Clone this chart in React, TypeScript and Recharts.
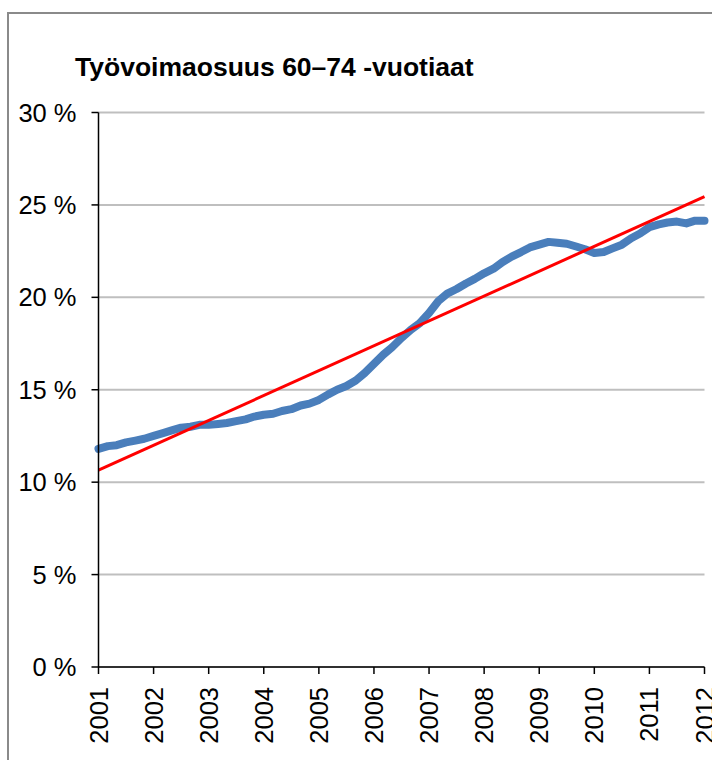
import React from "react";
import { LineChart, Line, XAxis, YAxis, CartesianGrid } from "recharts";

const timePoints = [
  2001.0, 2001.17, 2001.33, 2001.5, 2001.67, 2001.83,
  2002.0, 2002.17, 2002.33, 2002.5, 2002.67, 2002.83,
  2003.0, 2003.17, 2003.33, 2003.5, 2003.67, 2003.83,
  2004.0, 2004.17, 2004.33, 2004.5, 2004.67, 2004.83,
  2005.0, 2005.17, 2005.33, 2005.5, 2005.67, 2005.83,
  2006.0, 2006.17, 2006.33, 2006.5, 2006.67, 2006.83,
  2007.0, 2007.17, 2007.33, 2007.5, 2007.67, 2007.83,
  2008.0, 2008.17, 2008.33, 2008.5, 2008.67, 2008.83,
  2009.0, 2009.17, 2009.33, 2009.5, 2009.67, 2009.83,
  2010.0, 2010.17, 2010.33, 2010.5, 2010.67, 2010.83,
  2011.0, 2011.17, 2011.33, 2011.5, 2011.67, 2011.83,
  2012.0,
];

const participationRate = [
  11.8, 11.95, 12.0, 12.15, 12.25, 12.35,
  12.5, 12.65, 12.8, 12.95, 13.0, 13.1,
  13.1, 13.15, 13.2, 13.3, 13.4, 13.55,
  13.65, 13.7, 13.85, 13.95, 14.15, 14.25,
  14.45, 14.75, 15.0, 15.2, 15.5, 15.9,
  16.4, 16.9, 17.3, 17.8, 18.25, 18.6,
  19.15, 19.8, 20.2, 20.45, 20.75, 21.0,
  21.3, 21.55, 21.9, 22.2, 22.45, 22.7,
  22.85, 23.0, 22.95, 22.9, 22.75, 22.6,
  22.4, 22.45, 22.65, 22.85, 23.2, 23.45,
  23.8, 23.95, 24.05, 24.1, 24.0, 24.15,
  24.15,
];

const trendTimes = [2001, 2012];
const trendValues = [10.65, 25.45];

const yearTicks = [2001, 2002, 2003, 2004, 2005, 2006, 2007, 2008, 2009, 2010, 2011, 2012];
const percentTicks = [0, 5, 10, 15, 20, 25, 30];
const title = "Työvoimaosuus 60–74 -vuotiaat";

const seriesData = timePoints.map((t, i) => ({ t, v: participationRate[i] }));
const trendData = trendTimes.map((t, i) => ({ t, trend: trendValues[i] }));

const FONT = "'Liberation Sans', Arial, Helvetica, sans-serif";

const YearTick = (props: any) => {
  const { x, y, payload } = props;
  return (
    <text
      transform={`translate(${x},${y + 11}) rotate(-90)`}
      textAnchor="end"
      dominantBaseline="central"
      fontFamily={FONT}
      fontSize={25.5}
      fill="#000"
    >
      {payload.value}
    </text>
  );
};

export default function App() {
  return (
    <div
      style={{
        position: "fixed",
        left: 0,
        top: 0,
        width: 712,
        height: 760,
        overflow: "hidden",
        background: "#fff",
      }}
    >
      <div
        style={{
          position: "absolute",
          left: 7,
          top: 12,
          width: 800,
          height: 800,
          border: "2px solid #8a8a8a",
        }}
      />
      <div
        style={{
          position: "absolute",
          left: 75,
          top: 52,
          fontFamily: FONT,
          fontWeight: "bold",
          fontSize: 26.5,
          color: "#000",
          whiteSpace: "nowrap",
          lineHeight: "30px",
        }}
      >
        {title}
      </div>
      <div style={{ position: "absolute", left: 0, top: 0 }}>
        <LineChart
          width={712}
          height={760}
          margin={{ top: 112.5, right: 7.5, bottom: 0, left: 8.5 }}
        >
          <CartesianGrid
            horizontal={true}
            vertical={false}
            stroke="#bfbfbf"
            strokeWidth={2}
          />
          <XAxis
            type="number"
            dataKey="t"
            domain={[2001, 2012]}
            ticks={yearTicks}
            interval={0}
            allowDuplicatedCategory={false}
            height={93}
            tickSize={7}
            tick={<YearTick />}
            axisLine={{ stroke: "#000", strokeWidth: 1.5 }}
            tickLine={{ stroke: "#000", strokeWidth: 1.5 }}
          />
          <YAxis
            type="number"
            domain={[0, 30]}
            ticks={percentTicks}
            interval={0}
            width={90}
            tickSize={7}
            tickMargin={15}
            tickFormatter={(v: number) => `${v} %`}
            tick={{ fontFamily: FONT, fontSize: 25.5, fill: "#000" }}
            axisLine={{ stroke: "#000", strokeWidth: 1.5 }}
            tickLine={{ stroke: "#000", strokeWidth: 1.5 }}
          />
          <Line
            data={seriesData}
            dataKey="v"
            type="linear"
            stroke="#4a7ebb"
            strokeWidth={8}
            strokeLinejoin="round"
            strokeLinecap="round"
            dot={false}
            isAnimationActive={false}
          />
          <Line
            data={trendData}
            dataKey="trend"
            type="linear"
            stroke="#ff0000"
            strokeWidth={3}
            dot={false}
            isAnimationActive={false}
          />
        </LineChart>
      </div>
    </div>
  );
}
